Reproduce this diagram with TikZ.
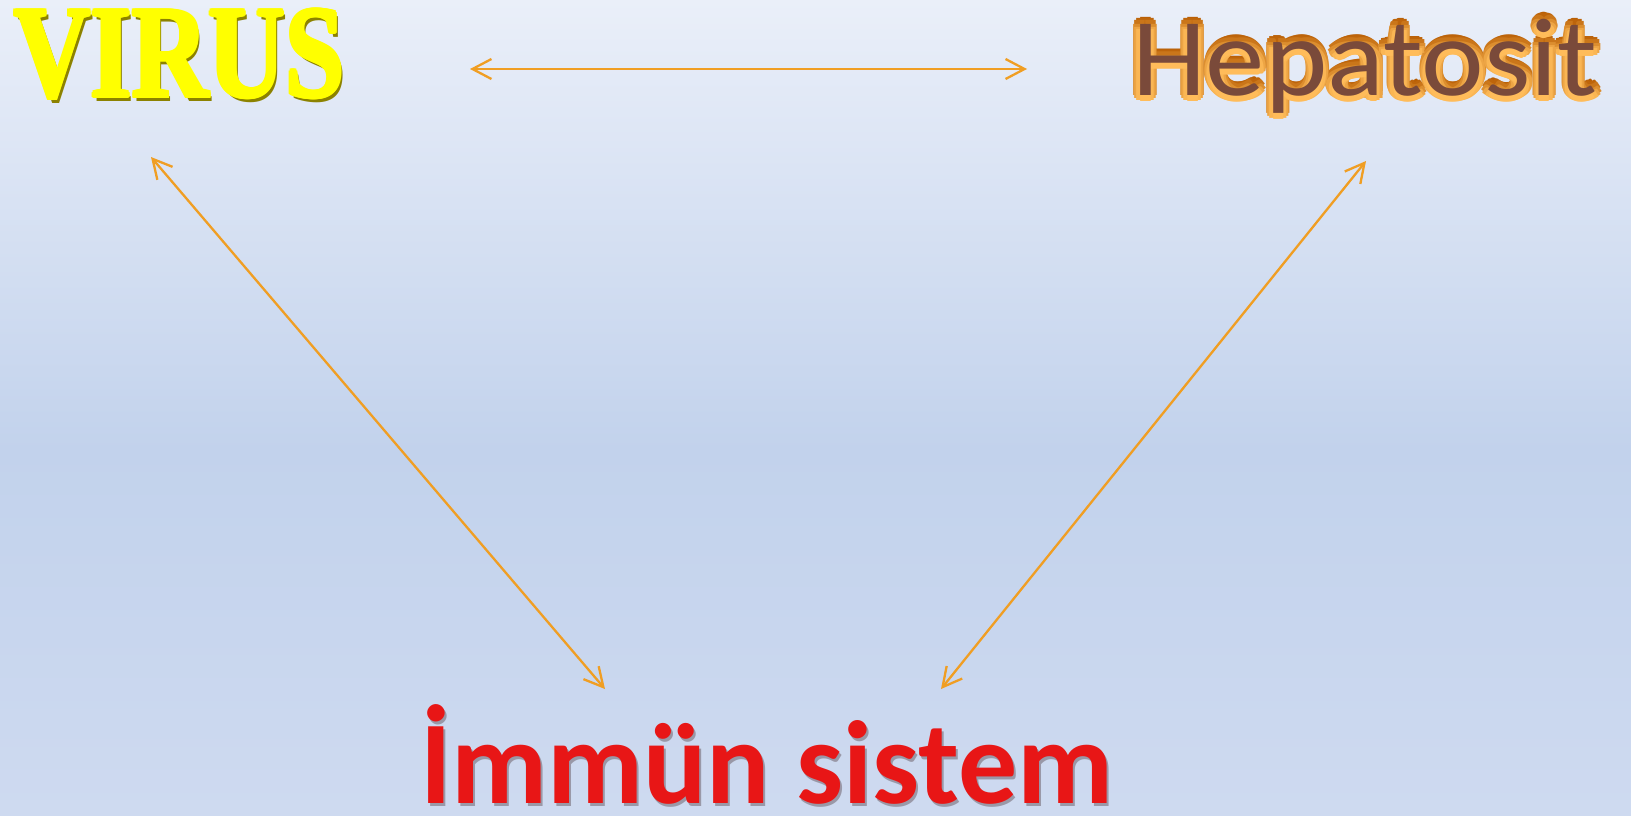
\documentclass[tikz,border=0pt]{standalone}
\usepackage{fontspec}
\usepackage{graphicx}
\newfontfamily\calib{Carlito}
\newfontfamily\serifb{Liberation Serif}
\usetikzlibrary{arrows.meta}
\definecolor{bgtop}{RGB}{234,239,249}
\definecolor{bgmid}{RGB}{194,210,236}
\definecolor{bgbot}{RGB}{206,218,240}
\definecolor{arr}{RGB}{240,158,35}
\definecolor{virusfill}{RGB}{255,255,0}
\definecolor{virusdark}{RGB}{140,130,0}
\definecolor{hepfill}{RGB}{122,74,58}
\definecolor{heplight}{RGB}{255,188,90}
\definecolor{hepdark}{RGB}{185,95,5}
\definecolor{immred}{RGB}{232,22,22}
\definecolor{immshadow}{RGB}{120,110,120}
\newcommand{\virustext}{{\fontsize{118}{118}\selectfont\serifb\bfseries\scalebox{0.9}[1.12]{VIRUS}}}
\newcommand{\heptext}{{\fontsize{112}{112}\selectfont\calib\scalebox{1.06}[0.99]{Hepatosit}}}
\newcommand{\immtext}{{\fontsize{116}{116}\selectfont\calib\bfseries\scalebox{1.017}[1.02]{İmmün sistem}}}
\begin{document}
\begin{tikzpicture}[x=1pt,y=-1pt,
  conn/.style={draw=arr, line width=2.3pt,
    {Straight Barb[length=19pt,width=20pt]}-{Straight Barb[length=19pt,width=20pt]}},
  lbl/.style={anchor=base west, inner sep=0pt, outer sep=0pt}]
\useasboundingbox (0,0) rectangle (1631,815);
\shade[top color=bgtop, bottom color=bgmid] (0,0) rectangle (1631,450);
\shade[top color=bgmid, bottom color=bgbot] (0,449) rectangle (1631,815);

% VIRUS
\node[lbl, text=virusdark] (virusshadow) at (17,101) {\virustext};
\foreach \a in {0,45,...,315}{
  \begin{scope}[shift={(\a:1.8)}]
    \node[lbl, text=virusfill] (viruso\a) at (14,97) {\virustext};
  \end{scope}
}
\node[lbl, text=virusfill] (virus) at (14,97) {\virustext};

% Hepatosit
\foreach \a in {270,300,240,330,210,0,180,30,150,60,120,90}{
  \pgfmathsetmacro{\p}{50+50*sin(\a)}
  \begin{scope}[shift={(\a:6.5)}]
    \node[lbl, text=heplight!\p!hepdark] (hepo\a) at (1132,95) {\heptext};
  \end{scope}
}
\node[lbl, text=hepfill] (hep) at (1132,95) {\heptext};

% Immun sistem
\node[lbl, text=immshadow, opacity=0.6] (immshadow) at (422,806) {\immtext};
\node[lbl, text=immred] (imm) at (420,803) {\immtext};

% connectors
\coordinate (vR) at (470,69);
\coordinate (hL) at (1027,69);
\coordinate (vB) at (151,157);
\coordinate (iL) at (605,689);
\coordinate (hB) at (1366,161);
\coordinate (iR) at (941,689);
\draw[conn] (vR) -- (hL);
\draw[conn] (vB) -- (iL);
\draw[conn] (hB) -- (iR);
\end{tikzpicture}
\end{document}
